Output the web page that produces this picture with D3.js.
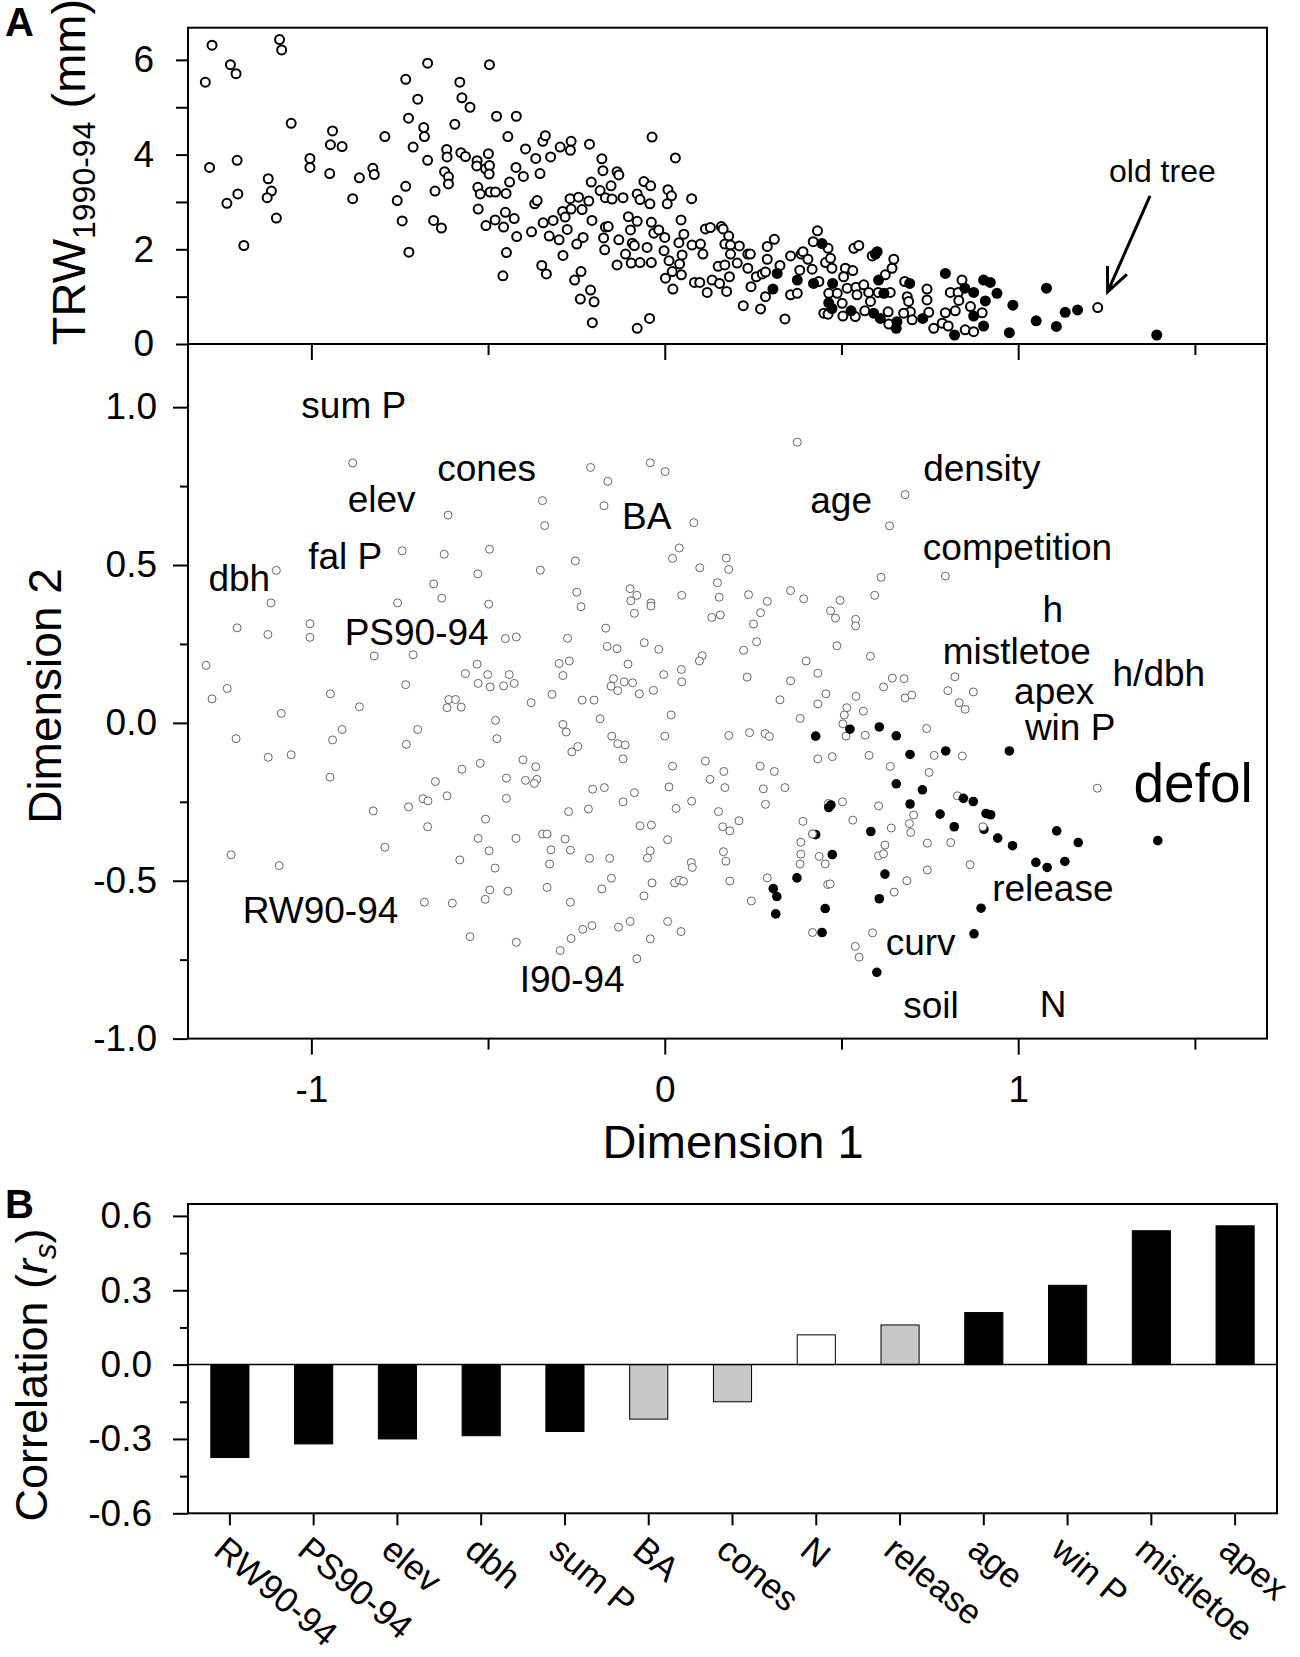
<!DOCTYPE html>
<html>
<head>
<meta charset="utf-8">
<script src="https://d3js.org/d3.v7.min.js"></script>
<style>
  body { margin: 0; background: #fff; }
  svg text { font-family: "Liberation Sans", Arial, sans-serif; fill: #000; }
  .axis .domain { display: none; }
  .axis line { stroke: #000; stroke-width: 2; }
</style>
</head>
<body>
<svg id="fig" width="1300" height="1657"></svg>
<script>
// ---- panel A top: ring width 1990-94 vs dimension 1 ----
const trwOpen = [
  [-1.281,6.31],[-1.300,5.53],[-1.229,5.90],[-1.213,5.71],[-1.090,6.43],[-1.084,6.21],[-1.057,4.66],[-1.288,3.73],[-1.210,3.88],[-1.208,3.17],
  [-1.239,2.97],[-1.122,3.49],[-1.113,3.23],[-1.125,3.09],[-1.099,2.66],[-1.191,2.08],[-1.004,3.92],[-1.004,3.73],[-0.940,4.50],[-0.946,4.21],
  [-0.913,4.17],[-0.948,3.60],[-0.864,3.51],[-0.883,3.07],[-0.792,4.38],[-0.826,3.71],[-0.822,3.58],[-0.733,5.59],[-0.671,5.93],[-0.699,5.17],
  [-0.725,4.77],[-0.682,4.57],[-0.680,4.38],[-0.712,4.16],[-0.671,3.88],[-0.733,3.33],[-0.757,3.03],[-0.743,2.60],[-0.724,1.94],[-0.650,3.23],
  [-0.654,2.61],[-0.632,2.45],[-0.617,4.11],[-0.616,3.95],[-0.623,3.64],[-0.612,3.53],[-0.612,3.38],[-0.594,4.64],[-0.580,5.53],[-0.574,5.20],
  [-0.551,5.00],[-0.577,4.04],[-0.564,3.96],[-0.496,5.90],[-0.476,4.81],[-0.420,4.81],[-0.444,4.38],[-0.394,4.12],[-0.531,3.87],[-0.532,3.76],
  [-0.499,4.02],[-0.507,3.70],[-0.496,3.77],[-0.497,3.59],[-0.529,3.31],[-0.522,3.17],[-0.494,3.21],[-0.479,3.21],[-0.449,3.18],[-0.439,3.42],
  [-0.421,3.73],[-0.400,3.54],[-0.528,2.85],[-0.506,2.50],[-0.480,2.62],[-0.456,2.47],[-0.451,2.78],[-0.426,2.65],[-0.419,2.27],[-0.448,1.93],
  [-0.458,1.44],[-0.365,3.92],[-0.353,3.60],[-0.345,4.28],[-0.338,4.40],[-0.323,3.95],[-0.296,4.16],[-0.265,4.28],[-0.267,4.09],[-0.213,4.22],
  [-0.368,2.96],[-0.361,3.03],[-0.377,2.37],[-0.344,2.56],[-0.316,2.61],[-0.327,2.28],[-0.299,2.20],[-0.289,2.80],[-0.282,2.68],[-0.276,2.42],
  [-0.288,1.87],[-0.268,3.07],[-0.244,3.10],[-0.265,2.85],[-0.234,2.84],[-0.215,3.02],[-0.206,2.61],[-0.231,2.25],[-0.249,2.11],[-0.348,1.66],
  [-0.335,1.48],[-0.237,1.53],[-0.255,1.35],[-0.210,1.14],[-0.239,0.95],[-0.200,0.89],[-0.205,0.45],[-0.208,3.42],[-0.178,3.91],[-0.175,3.66],
  [-0.183,3.24],[-0.168,3.09],[-0.168,2.47],[-0.173,2.24],[-0.170,1.99],
  [-0.135,3.64],[-0.130,3.57],[-0.152,3.34],[-0.149,3.06],[-0.118,3.09],[-0.059,3.43],[-0.040,3.34],[-0.078,3.17],[-0.070,3.05],[-0.042,2.96],
  [0.009,3.26],[0.019,3.13],[0.007,2.96],[0.076,3.07],[-0.036,4.37],[0.030,3.93],[-0.103,2.69],[-0.078,2.59],[-0.097,2.41],[-0.160,2.48],
  [-0.130,2.20],[-0.092,2.13],[-0.086,2.08],[-0.050,2.04],[-0.111,1.90],[-0.135,1.67],[-0.095,1.71],[-0.070,1.72],[-0.038,1.72],[-0.038,2.57],
  [-0.031,2.34],[-0.017,2.41],[0.000,2.25],[0.046,2.62],[0.054,2.32],[0.040,2.14],[0.077,2.09],[-0.002,1.97],[0.049,1.88],[0.012,1.76],
  [0.042,1.69],[0.021,1.53],[0.002,1.39],[0.047,1.46],[0.023,1.16],[0.101,2.11],[0.108,1.90],[0.084,1.30],[0.099,1.30],[0.120,1.09],
  [0.134,1.35],[0.151,1.64],[0.155,1.28],[0.175,1.11],[0.170,1.67],[0.183,1.42],[0.115,2.43],[0.129,2.46],[0.160,2.48],[0.165,2.43],
  [0.181,2.28],[0.170,2.11],[0.186,2.09],[0.211,2.07],[0.186,1.90],[0.235,1.90],[0.242,1.90],[0.205,1.71],[0.235,1.60],[0.244,1.21],
  [0.222,0.81],[0.271,0.74],[0.285,1.00],[0.259,1.42],[0.276,1.48],[0.285,1.52],[0.290,1.79],[0.290,2.06],[0.310,2.21],[0.326,1.66],
  [0.340,0.53],[0.356,1.86],[0.356,1.04],[0.375,1.07],[0.382,1.56],[0.386,1.90],[0.391,1.95],[0.405,1.79],[0.417,1.58],[0.420,2.16],
  [0.432,2.39],[0.462,2.02],[0.455,1.72],[0.469,1.81],[0.473,1.60],[0.436,1.32],[0.464,1.07],[0.488,1.07],[0.450,0.65],[0.462,0.63],
  [0.502,0.86],[0.504,0.59],[0.511,1.60],[0.506,1.42],[0.532,1.55],[0.516,1.18],[0.541,1.20],[0.563,1.25],[0.544,1.04],[0.539,0.58],
  [0.566,0.70],[0.535,2.02],[0.549,2.08],[0.587,1.86],[0.577,1.09],[0.582,0.90],[0.604,1.09],[0.624,1.46],[0.643,1.60],[0.648,1.79],
  [0.638,1.09],[0.632,0.68],[0.634,0.42],[0.679,1.32],[0.686,1.00],[0.690,0.90],[0.695,0.68],[0.676,0.65],[0.700,0.51],[0.742,1.16],
  [0.742,0.93],[0.747,0.67],[0.761,0.33],[0.785,0.44],[0.808,1.09],[0.830,1.09],[0.841,1.35],[0.832,0.92],[0.822,0.70],[0.794,0.66],
  [0.802,0.38],[0.850,0.30],[0.874,0.26],[0.865,0.79],[0.898,0.66],[-0.078,0.33],[-0.043,0.54],[1.225,0.77]
];
const trwFilled = [
  [0.318,1.49],[0.306,1.16],[0.375,1.35],[0.445,2.12],[0.421,1.28],[0.475,1.28],[0.464,0.87],[0.473,0.75],[0.527,0.70],[0.601,1.95],
  [0.596,1.90],[0.605,1.35],[0.620,1.07],[0.591,0.65],[0.610,0.54],[0.657,0.47],[0.655,0.33],[0.693,1.28],[0.730,0.54],[0.794,1.49],
  [0.820,0.19],[0.849,1.18],[0.874,1.09],[0.874,0.59],[0.902,0.38],[0.907,0.91],[0.902,1.35],[0.921,1.30],[0.940,1.07],[1.080,1.18],
  [1.051,0.49],[1.108,0.37],[1.133,0.67],[1.168,0.72],[1.392,0.19],[0.985,0.82],[0.975,0.24]
];
const oldTreeLabel = ['old tree', 1.408, 3.42];
const oldTreeArrow = [[1.373, 3.13], [1.253, 1.10]];

// ---- panel A bottom: ordination of trees and variables ----
const dimOpen = [
  [-0.883,0.823],[-0.613,0.658],[-0.743,0.545],[-0.624,0.534],[-0.496,0.550],[-0.346,0.704],[-0.340,0.625],[-0.352,0.484],[-1.099,0.483],[-1.114,0.380],
  [-1.210,0.301],[-1.123,0.280],[-1.004,0.314],[-1.004,0.271],[-0.529,0.472],[-0.654,0.440],[-0.631,0.395],[-0.756,0.380],[-0.498,0.376],[-0.451,0.267],
  [-0.420,0.272],[-0.822,0.212],[-0.712,0.216],[-1.298,0.182],[-0.531,0.186],[-0.564,0.156],[-0.501,0.153],[-0.440,0.153],[-0.528,0.125],[-0.494,0.114],
  [-0.456,0.117],[-0.426,0.125],[-1.238,0.109],[-0.733,0.121],
  [-0.210,0.809],[-0.161,0.765],[-0.172,0.688],[-0.041,0.824],[0.001,0.796],[0.082,0.634],[0.375,0.889],[0.680,0.723],[0.636,0.624],[0.612,0.461],
  [0.594,0.404],[0.041,0.554],[0.022,0.521],[0.099,0.491],[0.174,0.522],[0.181,0.486],[-0.253,0.513],[-0.249,0.414],[-0.237,0.368],[-0.098,0.425],
  [-0.079,0.404],[-0.096,0.387],[-0.039,0.380],[-0.039,0.370],[-0.086,0.347],[0.048,0.404],[0.149,0.444],[0.154,0.398],[0.157,0.342],[0.133,0.334],
  [0.237,0.406],[0.290,0.385],[0.271,0.349],[0.251,0.313],[0.356,0.419],[0.393,0.393],[0.496,0.388],[0.469,0.355],[0.483,0.332],[0.540,0.328],
  [0.540,0.307],[-0.167,0.300],[-0.275,0.268],[-0.163,0.242],[-0.135,0.235],[-0.058,0.254],[-0.017,0.233],[0.260,0.257],[0.223,0.230],[0.106,0.213],
  [0.098,0.196],[0.487,0.244],[0.582,0.211],[-0.299,0.188],[-0.270,0.196],[-0.288,0.150],[-0.104,0.186],[-0.003,0.153],[0.047,0.169],[0.048,0.130],
  [0.233,0.145],[0.400,0.196],[0.433,0.157],[0.356,0.133],[-0.145,0.140],[-0.115,0.130],[-0.091,0.127],[-0.152,0.116],[0.644,0.142],[0.619,0.114],
  [0.677,0.140],[0.794,0.465],[0.821,0.146],
  [-1.281,0.076],[-0.946,0.092],[-1.085,0.030],[-0.864,0.051],[-1.213,-0.050],[-0.940,-0.054],[-0.913,-0.021],[-1.122,-0.109],[-1.057,-0.101],[-0.947,-0.172],
  [-0.699,-0.021],[-0.731,-0.068],[-0.611,0.074],[-0.592,0.074],[-0.616,0.048],[-0.576,0.050],[-0.479,0.008],[-0.475,-0.050],[-0.378,0.064],[-0.522,-0.128],
  [-0.574,-0.147],[-0.649,-0.186],[-0.616,-0.231],[-0.684,-0.240],[-0.670,-0.247],[-0.725,-0.266],[-0.825,-0.279],[-0.671,-0.329],[-0.401,-0.117],[-0.365,-0.139],
  [-0.448,-0.175],[-0.394,-0.182],[-0.362,-0.179],[-0.369,-0.192],[-0.448,-0.239],[-0.507,-0.305],[-0.528,-0.366],[-0.421,-0.366],[-0.497,-0.405],[-0.480,-0.460],
  [-0.346,-0.352],[-0.792,-0.394],[-1.227,-0.418],[-1.091,-0.452],[-0.580,-0.434],[-0.495,-0.529],[-0.508,-0.559],[-0.444,-0.533],[-0.680,-0.568],[-0.601,-0.571],
  [-0.551,-0.677],[-0.420,-0.695],
  [-0.319,0.090],[-0.234,0.072],[-0.200,0.072],[-0.133,0.102],[-0.072,0.092],[-0.032,0.103],[-0.183,0.013],[-0.288,-0.005],[-0.279,-0.029],[-0.263,-0.092],
  [-0.246,-0.075],[-0.150,-0.042],[-0.133,-0.066],[-0.112,-0.070],[-0.118,-0.114],[0.000,-0.042],[0.018,0.025],[0.022,-0.137],[0.115,-0.121],[0.128,-0.179],
  [0.167,-0.154],[0.170,-0.205],[0.012,-0.203],[0.032,-0.271],[0.076,-0.248],[0.181,-0.040],[0.240,-0.031],[0.284,-0.034],[0.296,-0.043],[0.326,0.073],
  [0.383,0.014],[0.433,0.060],[0.456,0.092],[0.541,0.084],[0.562,0.037],[0.515,0.048],[0.508,0.025],[0.504,-0.003],[0.513,-0.042],[0.567,-0.039],
  [0.680,0.079],[0.433,-0.114],[0.474,-0.107],[0.578,-0.103],[0.638,-0.138],[0.270,-0.137],[0.310,-0.154],[0.279,-0.209],[0.340,-0.205],[0.285,-0.258],
  [0.463,-0.255],[0.503,-0.250],[0.605,-0.263],[0.532,-0.308],[0.641,-0.333],[0.391,-0.312],[0.418,-0.352],[0.385,-0.378],[0.385,-0.416],[0.383,-0.447],
  [0.437,-0.423],[0.454,-0.447],[0.623,-0.387],[0.605,-0.421],[0.619,-0.415],[0.649,-0.536],[0.461,-0.512],[0.468,-0.510],[0.290,-0.491],[0.245,-0.564],
  [0.418,-0.664],[0.588,-0.665],[0.539,-0.708],[0.550,-0.742],[0.152,-0.281],[0.164,-0.329],[0.184,-0.342],[0.210,-0.310],[0.166,-0.408],[0.173,-0.438],
  [0.184,-0.501],[0.075,-0.442],[0.078,-0.458],[0.028,-0.507],[0.041,-0.498],[0.053,-0.502],[0.008,-0.370],[-0.070,-0.326],[-0.038,-0.324],[-0.041,-0.405],
  [-0.049,-0.428],[-0.036,-0.507],[-0.059,-0.548],[-0.204,-0.210],[-0.171,-0.205],[-0.086,-0.221],[-0.118,-0.250],[-0.272,-0.281],[-0.216,-0.273],[-0.282,-0.368],
  [-0.267,-0.403],[-0.322,-0.402],[-0.326,-0.447],[-0.333,-0.521],[-0.333,-0.352],[-0.213,-0.429],[-0.156,-0.429],[-0.151,-0.492],[-0.178,-0.526],[-0.267,-0.568],
  [-0.098,-0.629],[-0.131,-0.647],[-0.206,-0.642],[-0.232,-0.654],[-0.265,-0.683],[-0.296,-0.721],[-0.041,-0.684],[0.008,-0.629],[0.046,-0.661],[-0.079,-0.747],
  [0.699,0.088],[0.801,0.102],[0.873,0.098],[0.833,0.064],[0.850,0.043],[0.741,-0.018],[0.762,-0.103],[0.842,-0.105],[0.748,-0.157],[0.704,-0.292],
  [0.692,-0.319],[0.696,-0.347],[0.685,-0.500],[0.743,-0.381],[0.809,-0.379],[0.743,-0.466],[0.864,-0.449],[0.828,-0.231],[1.224,-0.207]
];
const dimFilled = [
  [0.427,-0.042],[0.524,-0.020],[0.607,-0.013],[0.655,-0.041],[0.655,-0.193],[0.470,-0.260],[0.464,-0.268],[0.583,-0.344],[0.427,-0.354],[0.474,-0.417],
  [0.623,-0.479],[0.607,-0.557],[0.374,-0.491],[0.307,-0.525],[0.317,-0.550],[0.314,-0.605],[0.454,-0.588],[0.445,-0.664],[0.600,-0.790],
  [0.795,-0.089],[0.694,-0.100],[0.975,-0.089],[0.729,-0.212],[0.694,-0.257],[0.845,-0.239],[0.873,-0.249],[0.779,-0.289],[0.819,-0.329],[0.909,-0.287],
  [0.922,-0.291],[0.903,-0.337],[0.942,-0.365],[0.984,-0.389],[1.109,-0.342],[1.170,-0.379],[1.050,-0.442],[1.082,-0.458],[1.132,-0.439],[1.395,-0.373],
  [0.895,-0.587],[0.875,-0.668]
];
// drawn on top of the filled tree next to it
const dimOpenTop = [[0.900,-0.329],[0.418,-0.352]];
const varLabels = [
  ['sum P',-0.880,0.966],['cones',-0.504,0.767],['elev',-0.801,0.667],['fal P',-0.904,0.486],['dbh',-1.204,0.419],
  ['PS90-94',-0.702,0.246],['BA',-0.051,0.614],['age',0.499,0.665],['density',0.897,0.767],['competition',0.998,0.517],
  ['h',1.098,0.321],['mistletoe',0.996,0.188],['h/dbh',1.398,0.117],['apex',1.102,0.060],['win P',1.147,-0.055],
  ['defol',1.495,-0.252],['release',1.098,-0.563],['curv',0.724,-0.735],['soil',0.753,-0.936],['N',1.099,-0.932],
  ['RW90-94',-0.974,-0.634],['I90-94',-0.262,-0.853]
];

// ---- panel B: correlations ----
const barCats = ['RW90-94','PS90-94','elev','dbh','sum P','BA','cones','N','release','age','win P','mistletoe','apex'];
const barValues = [-0.375,-0.32,-0.30,-0.287,-0.27,-0.22,-0.15,0.12,0.16,0.21,0.32,0.54,0.56];
const barGroup = ['sig','sig','sig','sig','sig','trend','trend','ns','trend','sig','sig','sig','sig'];

const trwTicks = [0,1,2,3,4,5,6];
const dim1Ticks = [-1,0,1];
const dim1Minor = [-0.5,0.5,1.5];
const dim2Ticks = [-1,-0.5,0,0.5,1];
const dim2Minor = [-0.75,-0.25,0.25,0.75];
const corrTicks = [-0.6,-0.3,0,0.3,0.6];
const corrMinor = [-0.45,-0.15,0.15,0.45];

const svg = d3.select('#fig');
const font = '"Liberation Sans", Arial, sans-serif';

const x = d3.scaleLinear().domain([-1.349, 1.704]).range([188, 1267]);
const yTrw = d3.scaleLinear().domain([0, 6.68]).range([344, 27.7]);
const yDim = d3.scaleLinear().domain([-1, 1.2]).range([1038.6, 344]);
const xBar = d3.scaleBand().domain(barCats).range([188, 1277]).padding(0);
const yBar = d3.scaleLinear().domain([-0.6, 0.648]).range([1513.3, 1204]);

function styleAxis(g, size) {
  g.attr('class', 'axis').attr('font-size', size).attr('font-family', font);
  g.selectAll('text').attr('fill', '#000');
}

// ---------- panel A: frame ----------
svg.append('rect').attr('x', 188).attr('y', yTrw.range()[1])
  .attr('width', 1267 - 188).attr('height', yDim.range()[0] - yTrw.range()[1])
  .attr('fill', 'none').attr('stroke', '#000').attr('stroke-width', 2);
svg.append('line').attr('x1', 188).attr('x2', 1267).attr('y1', yTrw(0)).attr('y2', yTrw(0))
  .attr('stroke', '#000').attr('stroke-width', 2);

// TRW y axis
svg.append('g').attr('transform', 'translate(188,0)')
  .call(d3.axisLeft(yTrw).tickValues(trwTicks).tickSize(12).tickPadding(22)
    .tickFormat(d => d % 2 === 0 ? d : ''))
  .call(g => styleAxis(g, 37));

// ticks below the TRW panel (pointing into the ordination)
svg.append('g').attr('transform', `translate(0,${yTrw(0)})`)
  .call(d3.axisBottom(x).tickValues(dim1Ticks).tickSize(16).tickFormat(''))
  .call(g => styleAxis(g, 37));
svg.append('g').attr('transform', `translate(0,${yTrw(0)})`)
  .call(d3.axisBottom(x).tickValues(dim1Minor).tickSize(11).tickFormat(''))
  .call(g => styleAxis(g, 37));

// Dimension 2 axis
svg.append('g').attr('transform', 'translate(188,0)')
  .call(d3.axisLeft(yDim).tickValues(dim2Ticks).tickSize(15).tickPadding(16)
    .tickFormat(d => d.toFixed(1)))
  .call(g => styleAxis(g, 37));
svg.append('g').attr('transform', 'translate(188,0)')
  .call(d3.axisLeft(yDim).tickValues(dim2Minor).tickSize(8).tickFormat(''))
  .call(g => styleAxis(g, 37));

// Dimension 1 axis
svg.append('g').attr('transform', `translate(0,${yDim(-1)})`)
  .call(d3.axisBottom(x).tickValues(dim1Ticks).tickSize(16).tickFormat(d => String(d)))
  .call(g => styleAxis(g, 37))
  .call(g => g.selectAll('text').attr('y', 63).attr('dy', null));
svg.append('g').attr('transform', `translate(0,${yDim(-1)})`)
  .call(d3.axisBottom(x).tickValues(dim1Minor).tickSize(11).tickFormat(''))
  .call(g => styleAxis(g, 37));

// TRW points
const trwG = svg.append('g');
trwG.selectAll('circle.open').data(trwOpen).join('circle')
  .attr('class', 'open')
  .attr('cx', d => x(d[0])).attr('cy', d => yTrw(d[1])).attr('r', 4.5)
  .attr('fill', '#fff').attr('stroke', '#000').attr('stroke-width', 2);
trwG.selectAll('circle.filled').data(trwFilled).join('circle')
  .attr('class', 'filled')
  .attr('cx', d => x(d[0])).attr('cy', d => yTrw(d[1])).attr('r', 5.5)
  .attr('fill', '#000');

// old tree annotation
svg.append('text').attr('x', x(oldTreeLabel[1])).attr('y', yTrw(oldTreeLabel[2]))
  .attr('text-anchor', 'middle').attr('font-size', 32).text(oldTreeLabel[0]);
{
  const [p0, p1] = oldTreeArrow;
  const ax = x(p0[0]), ay = yTrw(p0[1]), bx = x(p1[0]), by = yTrw(p1[1]);
  const ang = Math.atan2(by - ay, bx - ax);
  const len = 26, spread = 0.42;
  const w1 = [bx - len * Math.cos(ang - spread), by - len * Math.sin(ang - spread)];
  const w2 = [bx - len * Math.cos(ang + spread), by - len * Math.sin(ang + spread)];
  svg.append('path')
    .attr('d', `M${ax},${ay}L${bx},${by}M${w1[0]},${w1[1]}L${bx},${by}L${w2[0]},${w2[1]}`)
    .attr('fill', 'none').attr('stroke', '#000').attr('stroke-width', 3);
}

// ordination points
const dimG = svg.append('g');
dimG.selectAll('circle.open').data(dimOpen).join('circle')
  .attr('class', 'open')
  .attr('cx', d => x(d[0])).attr('cy', d => yDim(d[1])).attr('r', 4)
  .attr('fill', '#fff').attr('stroke', '#666').attr('stroke-width', 1);
dimG.selectAll('circle.filled').data(dimFilled).join('circle')
  .attr('class', 'filled')
  .attr('cx', d => x(d[0])).attr('cy', d => yDim(d[1])).attr('r', 4.8)
  .attr('fill', '#000');
dimG.selectAll('circle.top').data(dimOpenTop).join('circle')
  .attr('class', 'top')
  .attr('cx', d => x(d[0])).attr('cy', d => yDim(d[1])).attr('r', 4)
  .attr('fill', '#fff').attr('stroke', '#666').attr('stroke-width', 1);

// variable labels
svg.append('g').selectAll('text').data(varLabels).join('text')
  .attr('x', d => x(d[1])).attr('y', d => yDim(d[2]))
  .attr('text-anchor', 'middle')
  .attr('font-size', d => d[0] === 'defol' ? 55 : 37)
  .text(d => d[0]);

// axis titles panel A
svg.append('text').attr('transform', 'translate(85,172) rotate(-90)')
  .attr('text-anchor', 'middle').attr('font-size', 47)
  .call(t => {
    t.append('tspan').text('TRW');
    t.append('tspan').attr('font-size', 32).attr('dy', 10).text('1990-94');
    t.append('tspan').attr('dy', -10).text(' (mm)');
  });
svg.append('text').attr('transform', 'translate(61,696) rotate(-90)')
  .attr('text-anchor', 'middle').attr('font-size', 46).text('Dimension 2');
svg.append('text').attr('x', 733).attr('y', 1158)
  .attr('text-anchor', 'middle').attr('font-size', 47).text('Dimension 1');

svg.append('text').attr('x', 5).attr('y', 36).attr('font-size', 40)
  .attr('font-weight', 'bold').text('A');

// ---------- panel B ----------
svg.append('text').attr('x', 5).attr('y', 1218).attr('font-size', 40)
  .attr('font-weight', 'bold').text('B');

const barW = xBar.bandwidth() * 0.455;
svg.append('g').selectAll('rect').data(barValues).join('rect')
  .attr('x', (d, i) => xBar(barCats[i]) + (xBar.bandwidth() - barW) / 2)
  .attr('y', d => yBar(Math.max(0, d)))
  .attr('width', barW)
  .attr('height', d => Math.abs(yBar(d) - yBar(0)))
  .attr('fill', (d, i) => ({ sig: '#000', trend: '#c8c8c8', ns: '#fff' })[barGroup[i]])
  .attr('stroke', '#000').attr('stroke-width', 1);

svg.append('line').attr('x1', 188).attr('x2', 1277).attr('y1', yBar(0)).attr('y2', yBar(0))
  .attr('stroke', '#000').attr('stroke-width', 1.5);

svg.append('rect').attr('x', 188).attr('y', yBar.range()[1])
  .attr('width', 1277 - 188).attr('height', yBar.range()[0] - yBar.range()[1])
  .attr('fill', 'none').attr('stroke', '#000').attr('stroke-width', 2);

svg.append('g').attr('transform', 'translate(188,0)')
  .call(d3.axisLeft(yBar).tickValues(corrTicks).tickSize(15).tickPadding(21)
    .tickFormat(d => d.toFixed(1)))
  .call(g => styleAxis(g, 37));
svg.append('g').attr('transform', 'translate(188,0)')
  .call(d3.axisLeft(yBar).tickValues(corrMinor).tickSize(8).tickFormat(''))
  .call(g => styleAxis(g, 37));

svg.append('g').attr('transform', `translate(0,${yBar(-0.6)})`)
  .call(d3.axisBottom(xBar).tickSize(12).tickFormat(''))
  .call(g => styleAxis(g, 37));

svg.append('g').selectAll('text').data(barCats).join('text')
  .attr('transform', d => `translate(${xBar(d) + xBar.bandwidth() / 2 - 18},${yBar(-0.6) + 40}) rotate(40)`)
  .attr('font-size', 35)
  .text(d => d);

svg.append('text').attr('transform', 'translate(47,1375) rotate(-90)')
  .attr('text-anchor', 'middle').attr('font-size', 45)
  .call(t => {
    t.append('tspan').text('Correlation (');
    t.append('tspan').attr('font-style', 'italic').text('r');
    t.append('tspan').attr('font-style', 'italic').attr('font-size', 31).attr('dy', 9).text('s');
    t.append('tspan').attr('dy', -9).text(')');
  });
</script>
</body>
</html>
